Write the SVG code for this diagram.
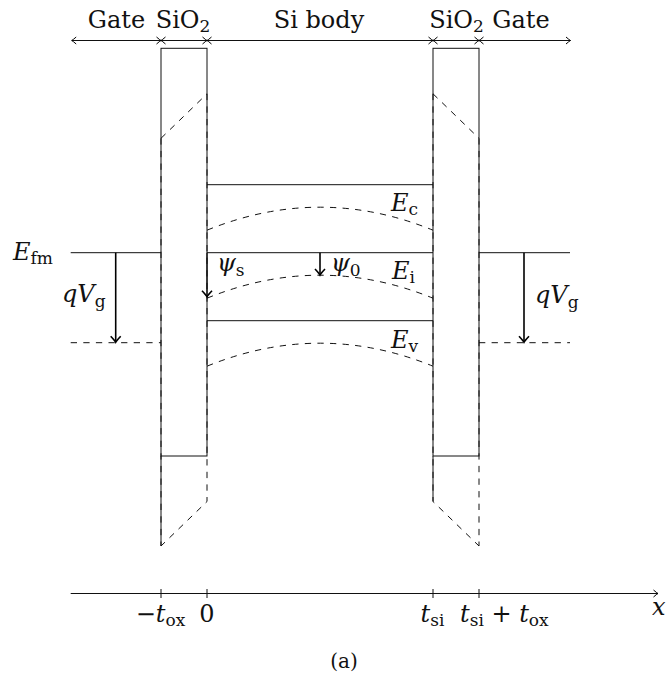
<svg xmlns="http://www.w3.org/2000/svg" width="666" height="678" viewBox="0 0 666 678">
<style>
.ln{stroke:#111;stroke-width:1;fill:none}
.dl{stroke:#111;stroke-width:1;fill:none;stroke-dasharray:6.3 6.3}
.ar{stroke:#000;stroke-width:1.6;fill:none}
.t{font-family:"DejaVu Serif","Liberation Serif",serif;font-size:24px;fill:#111}
.i{font-style:italic}
.s{font-size:17px}
</style>
<defs>
<marker id="ah" viewBox="-7 -6 9 12" refX="0" refY="0" markerWidth="9" markerHeight="12" orient="auto-start-reverse" markerUnits="userSpaceOnUse">
<path d="M-4.5,-3.5 Q-1.2,-0.6 0,0 Q-1.2,0.6 -4.5,3.5" fill="none" stroke="#000" stroke-width="1"/>
</marker>
<marker id="ahb" viewBox="-8 -7 10 14" refX="0" refY="0" markerWidth="10" markerHeight="14" orient="auto" markerUnits="userSpaceOnUse">
<path d="M-6,-5 Q-1.5,-0.8 0,0 Q-1.5,0.8 -6,5" fill="none" stroke="#000" stroke-width="1.6"/>
</marker>
</defs>
<rect width="666" height="678" fill="#fff"/>

<g id="dimension-arrows">
<line class="ln" x1="71.7" y1="40.5" x2="161" y2="40.5" marker-start="url(#ah)" marker-end="url(#ah)"/>
<line class="ln" x1="161" y1="40.5" x2="207" y2="40.5" marker-start="url(#ah)" marker-end="url(#ah)"/>
<line class="ln" x1="207" y1="40.5" x2="433" y2="40.5" marker-start="url(#ah)" marker-end="url(#ah)"/>
<line class="ln" x1="433" y1="40.5" x2="479" y2="40.5" marker-start="url(#ah)" marker-end="url(#ah)"/>
<line class="ln" x1="479" y1="40.5" x2="570.5" y2="40.5" marker-start="url(#ah)" marker-end="url(#ah)"/>
</g>
<g id="region-labels">
<text class="t" x="116.5" y="27.5" text-anchor="middle">Gate</text>
<text class="t" x="183" y="27.5" text-anchor="middle">SiO<tspan class="s" dy="4">2</tspan></text>
<text class="t" x="319" y="27.5" text-anchor="middle">Si body</text>
<text class="t" x="456.5" y="27.5" text-anchor="middle">SiO<tspan class="s" dy="4">2</tspan></text>
<text class="t" x="521" y="27.5" text-anchor="middle">Gate</text>
</g>

<g id="left-oxide">
<rect class="ln" x="161" y="48.3" width="46" height="407.7"/>
<line class="ln" x1="161" y1="456" x2="161" y2="546"/>
<path class="dl" d="M161,138.3 L207,93.8"/>
<path class="dl" d="M207,93.8 L207,501.5 L161,546"/>
<path class="dl" d="M161,138.3 L161,546"/>
</g>
<g id="right-oxide">
<rect class="ln" x="433" y="48.3" width="46" height="407.7"/>
<line class="ln" x1="433" y1="456" x2="433" y2="501.5"/>
<path class="dl" d="M433,93.8 L479,138.3"/>
<path class="dl" d="M433,93.8 L433,501.5 L479,546"/>
<path class="dl" d="M479,138.3 L479,546"/>
</g>

<g id="left-gate">
<line class="ln" x1="70.7" y1="252.7" x2="161" y2="252.7"/>
<line class="dl" x1="70.7" y1="342.7" x2="161" y2="342.7"/>
<text class="t" x="13" y="260"><tspan class="i">E</tspan><tspan class="s" dy="4">fm</tspan></text>
<text class="t" x="62" y="301.7"><tspan class="i">qV</tspan><tspan class="s" dy="5">g</tspan></text>
</g>
<g id="right-gate">
<line class="ln" x1="479" y1="252.7" x2="570" y2="252.7"/>
<line class="dl" x1="479" y1="342.7" x2="570" y2="342.7"/>
<text class="t" x="535" y="303"><tspan class="i">qV</tspan><tspan class="s" dy="5">g</tspan></text>
</g>

<g id="si-body">
<line class="ln" x1="207" y1="184.7" x2="433" y2="184.7"/>
<line class="ln" x1="207" y1="252.7" x2="433" y2="252.7"/>
<line class="ln" x1="207" y1="320.7" x2="433" y2="320.7"/>
<path class="dl" d="M207,230.2 Q320,184.2 433,230.2"/>
<path class="dl" d="M207,298.2 Q320,252.2 433,298.2"/>
<path class="dl" d="M207,366.2 Q320,320.2 433,366.2"/>
<text class="t" x="391" y="211"><tspan class="i">E</tspan><tspan class="s" dy="4">c</tspan></text>
<text class="t" x="392" y="279"><tspan class="i">E</tspan><tspan class="s" dy="4">i</tspan></text>
<text class="t" x="391" y="348"><tspan class="i">E</tspan><tspan class="s" dy="4">v</tspan></text>
<text class="t" x="217" y="271"><tspan class="i">ψ</tspan><tspan class="s" dy="5">s</tspan></text>
<text class="t" x="331" y="271"><tspan class="i">ψ</tspan><tspan class="s" dy="5">0</tspan></text>
</g>

<g id="connectors">
<line class="ar" x1="115.7" y1="252.7" x2="115.7" y2="342.2" marker-end="url(#ahb)"/>
<line class="ar" x1="524" y1="252.7" x2="524" y2="342.2" marker-end="url(#ahb)"/>
<line class="ln" style="stroke-width:1.3" x1="207" y1="252.7" x2="207" y2="296.7" marker-end="url(#ahb)"/>
<line class="ar" x1="320" y1="252.7" x2="320" y2="275" marker-end="url(#ahb)"/>
</g>

<g id="x-axis">
<line class="ln" x1="70.7" y1="593.5" x2="658" y2="593.5" marker-end="url(#ah)"/>
<line class="ln" x1="161" y1="589" x2="161" y2="598"/>
<line class="ln" x1="207" y1="589" x2="207" y2="598"/>
<line class="ln" x1="433" y1="589" x2="433" y2="598"/>
<line class="ln" x1="479" y1="589" x2="479" y2="598"/>
<text class="t" x="160.5" y="621.5" text-anchor="middle">−<tspan class="i">t</tspan><tspan class="s" dy="4">ox</tspan></text>
<text class="t" x="207" y="621.5" text-anchor="middle">0</text>
<text class="t" x="432.5" y="621.5" text-anchor="middle"><tspan class="i">t</tspan><tspan class="s" dy="4">si</tspan></text>
<text class="t" x="460" y="621.5"><tspan class="i">t</tspan><tspan class="s" dy="4">si</tspan><tspan dy="-4"> + </tspan><tspan class="i">t</tspan><tspan class="s" dy="4">ox</tspan></text>
<text class="t i" x="652" y="615">x</text>
</g>
<text class="t" x="344" y="668" text-anchor="middle" style="font-size:20px">(a)</text>
</svg>
